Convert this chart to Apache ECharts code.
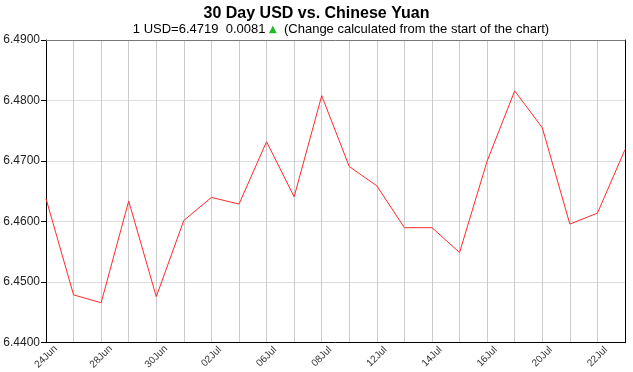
<!DOCTYPE html>
<html>
<head>
<meta charset="utf-8">
<script src="https://cdn.jsdelivr.net/npm/echarts@6/dist/echarts.min.js"></script>
<style>html,body{margin:0;padding:0;background:#fff;}#c{width:633px;height:372px;}</style>
</head>
<body>
<div id="c"></div>
<script>
var categories = ['24Jun','25Jun','28Jun','29Jun','30Jun','01Jul','02Jul','05Jul','06Jul','07Jul','08Jul','09Jul','12Jul','13Jul','14Jul','15Jul','16Jul','19Jul','20Jul','21Jul','22Jul','23Jul'];
var rates = [6.4638,6.4479,6.4466,6.4634,6.4476,6.4602,6.4640,6.4629,6.4732,6.4641,6.4808,6.4691,6.4659,6.4590,6.4590,6.4549,6.4700,6.4816,6.4755,6.4596,6.4614,6.4719];
var yMin = 6.44, yMax = 6.49, yStep = 0.01;
var titleText = '30 Day USD vs. Chinese Yuan';
var subParts = ['1 USD=6.4719  0.0081 ', '\u25B2', '  (Change calculated from the start of the chart)'];

var chart = echarts.init(document.getElementById('c'), null, {renderer: 'canvas'});
chart.setOption({
  animation: false,
  backgroundColor: '#fff',
  textStyle: {fontFamily: 'Liberation Sans, Arial, sans-serif'},
  title: [{
    text: titleText,
    left: 'center',
    top: 1,
    textStyle: {fontSize: 16, fontWeight: 'bold', color: '#000', fontFamily: 'Liberation Sans'}
  }, {
    text: '{a|' + subParts[0] + '}{t|' + subParts[1] + '}{a|' + subParts[2] + '}',
    left: 336,
    textAlign: 'center',
    top: 18,
    textStyle: {
      fontWeight: 'normal',
      rich: {
        a: {fontSize: 13, color: '#000', fontWeight: 'normal', fontFamily: 'Liberation Sans'},
        t: {fontSize: 10, color: '#22bb22', fontWeight: 'normal', fontFamily: 'DejaVu Sans'}
      }
    }
  }],
  grid: {left: 46, right: 8, top: 40, bottom: 29, containLabel: false},
  xAxis: [{
    type: 'category',
    data: categories,
    boundaryGap: false,
    axisLine: {lineStyle: {color: '#000', width: 1}},
    axisTick: {show: false},
    axisLabel: {
      interval: 1,
      rotate: 45,
      align: 'center',
      verticalAlign: 'middle',
      fontSize: 10,
      color: '#333',
      margin: 14,
      fontFamily: 'Liberation Sans'
    },
    splitLine: {show: true, interval: 0, lineStyle: {color: '#cccccc', width: 1}}
  }, {
    type: 'category',
    data: categories,
    boundaryGap: false,
    position: 'top',
    axisLine: {show: true, lineStyle: {color: '#777', width: 1}},
    axisTick: {show: false},
    axisLabel: {show: false},
    splitLine: {show: false}
  }],
  yAxis: [{
    type: 'value',
    min: yMin,
    max: yMax,
    interval: yStep,
    axisLine: {show: true, lineStyle: {color: '#000', width: 1}},
    axisTick: {show: true, length: 5, lineStyle: {color: '#000'}},
    axisLabel: {
      formatter: function (v) { return v.toFixed(4); },
      fontSize: 12,
      color: '#222',
      margin: 6,
      fontFamily: 'Liberation Sans'
    },
    splitLine: {show: true, lineStyle: {color: '#dddddd', width: 1}}
  }, {
    type: 'value',
    min: yMin,
    max: yMax,
    interval: yStep,
    position: 'right',
    axisLine: {show: true, lineStyle: {color: '#000', width: 1}},
    axisTick: {show: false},
    axisLabel: {show: false},
    splitLine: {show: false}
  }],
  series: [{
    type: 'line',
    data: rates,
    xAxisIndex: 0,
    yAxisIndex: 0,
    showSymbol: false,
    symbol: 'none',
    lineStyle: {color: '#ff2a2a', width: 1},
    z: 5
  }]
});
</script>
</body>
</html>
